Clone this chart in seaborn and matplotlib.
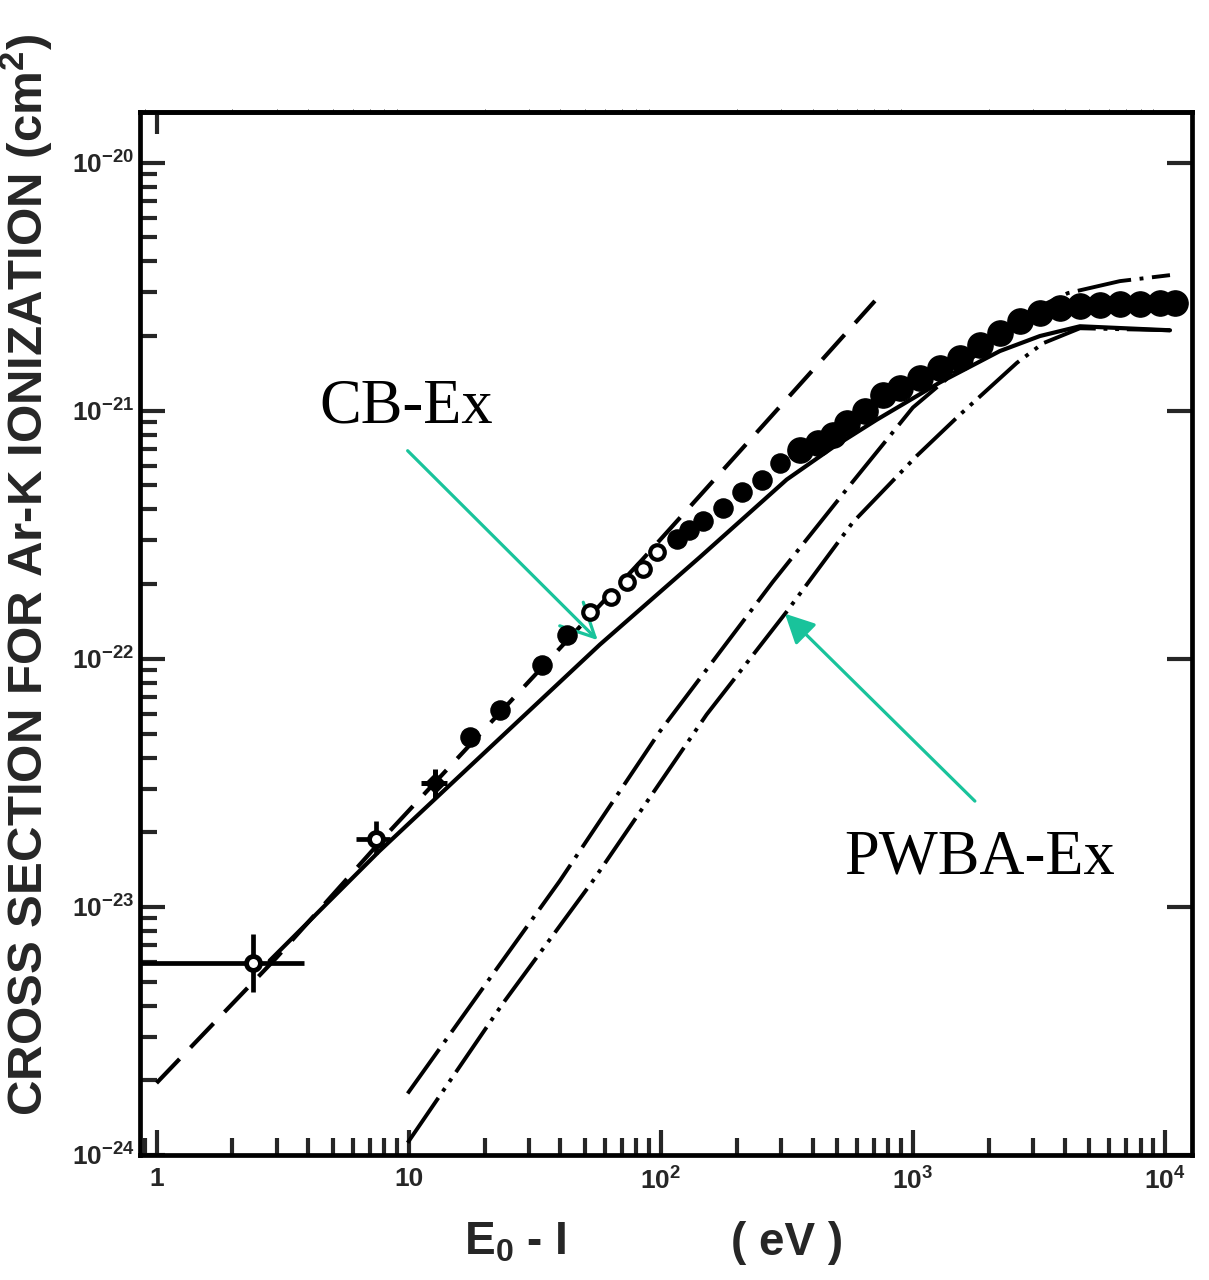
import matplotlib
matplotlib.use("Agg")
import matplotlib.pyplot as plt
import pandas as pd
import seaborn as sns

# ---------------- data ----------------
# straight long-dashed curve
dash_e = [1.0, 2.99, 8.41, 84.8, 325, 707]
dash_s = [1.95e-24, 6.24e-24, 2.02e-23, 2.52e-22, 1.15e-21, 2.77e-21]

# solid curve (CB-Ex)
cb_e = [2.81, 7.66, 57.3, 143, 316, 480, 719, 1279, 2214, 3190, 4600, 10470]
cb_s = [6.07e-24, 1.68e-23, 1.14e-22, 2.57e-22, 5.28e-22, 7.1e-22, 9.2e-22,
        1.30e-21, 1.74e-21, 2.0e-21, 2.19e-21, 2.11e-21]

# dash-dot curve
dd_e = [9.91, 20.96, 39.7, 99.1, 278, 562, 1000, 1537, 2214, 2912, 4121, 6627, 10470]
dd_s = [1.77e-24, 5.14e-24, 1.27e-23, 5.09e-23, 2.04e-22, 5.0e-22, 1.03e-21,
        1.49e-21, 2.0e-21, 2.52e-21, 2.98e-21, 3.33e-21, 3.52e-21]

# dash-dot-dot curve (PWBA-Ex)
pw_e = [9.91, 23.6, 53.7, 152, 316, 578, 1038, 1537, 2587, 3281, 4600, 10470]
pw_s = [1.12e-24, 4.07e-24, 1.27e-23, 5.96e-23, 1.55e-22, 3.55e-22, 6.59e-22,
        9.64e-22, 1.56e-21, 1.87e-21, 2.15e-21, 2.11e-21]

# measured points with error bars (open symbols)
eb_e = [2.41, 7.45]
eb_s = [5.94e-24, 1.87e-23]
eb_e_lo = [0.5, 6.2]
eb_e_hi = [3.83, 8.4]
eb_s_lo = [4.53e-24, 1.63e-23]
eb_s_hi = [7.8e-24, 2.21e-23]

# star point
st_e = [12.7]
st_s = [3.15e-23]
st_e_lo = [11.2]
st_e_hi = [14.2]
st_s_lo = [2.75e-23]
st_s_hi = [3.6e-23]

# filled points
fill_e = [17.5, 23.0, 33.7, 42.4, 116, 130, 147, 176, 210, 252, 297]
fill_s = [4.86e-23, 6.24e-23, 9.46e-23, 1.25e-22, 3.03e-22, 3.30e-22, 3.61e-22,
          4.07e-22, 4.69e-22, 5.28e-22, 6.18e-22]

# open points
open_e = [52.3, 63.4, 73.3, 84.8, 96.4]
open_s = [1.55e-22, 1.77e-22, 2.04e-22, 2.30e-22, 2.69e-22]

# dense data band at high energies
band_e = [356, 420, 482, 547, 645, 761, 888, 1066, 1279, 1537, 1845, 2214, 2660,
          3190, 3830, 4600, 5521, 6627, 7960, 9550, 10960]
band_s = [6.97e-22, 7.43e-22, 8.0e-22, 8.95e-22, 1.0e-21, 1.16e-21, 1.24e-21,
          1.36e-21, 1.49e-21, 1.63e-21, 1.84e-21, 2.06e-21, 2.30e-21, 2.48e-21,
          2.59e-21, 2.64e-21, 2.67e-21, 2.69e-21, 2.69e-21, 2.72e-21, 2.72e-21]

x_ticks = [1, 10, 100, 1000, 10000]
x_tick_labels = ["1", "10", r"$10^{2}$", r"$10^{3}$", r"$10^{4}$"]
y_ticks = [1e-24, 1e-23, 1e-22, 1e-21, 1e-20]
y_tick_labels = [r"$10^{-24}$", r"$10^{-23}$", r"$10^{-22}$", r"$10^{-21}$", r"$10^{-20}$"]

# ---------------- style ----------------
sns.set_style("white")
plt.rcParams["font.family"] = ["Liberation Sans", "DejaVu Sans"]
plt.rcParams["mathtext.fontset"] = "custom"
plt.rcParams["mathtext.rm"] = "Liberation Sans:bold"
plt.rcParams["mathtext.it"] = "Liberation Sans:bold"
plt.rcParams["mathtext.bf"] = "Liberation Sans:bold"

fig = plt.figure(figsize=(12.09, 12.80), dpi=100)
ax = fig.add_axes([140 / 1209, 1 - 1155 / 1280, (1192 - 140) / 1209, (1155 - 112) / 1280])
ax.set_xscale("log")
ax.set_yscale("log")

lw = 3.0
sns.lineplot(x=dash_e, y=dash_s, ax=ax, color="black", linewidth=lw,
             linestyle=(0, (8, 3.8)), sort=False, estimator=None)
sns.lineplot(x=cb_e, y=cb_s, ax=ax, color="black", linewidth=lw,
             sort=False, estimator=None)
sns.lineplot(x=dd_e, y=dd_s, ax=ax, color="black", linewidth=2.8,
             linestyle=(0, (14, 2.2, 1, 2.2)), sort=False, estimator=None)
sns.lineplot(x=pw_e, y=pw_s, ax=ax, color="black", linewidth=2.8,
             linestyle=(0, (14, 2, 1, 2, 1, 2)), sort=False, estimator=None)

# error-bar points
xerr = [[e - lo for e, lo in zip(eb_e, eb_e_lo)], [hi - e for e, hi in zip(eb_e, eb_e_hi)]]
yerr = [[s - lo for s, lo in zip(eb_s, eb_s_lo)], [hi - s for s, hi in zip(eb_s, eb_s_hi)]]
ax.errorbar(eb_e, eb_s, xerr=xerr, yerr=yerr, fmt="o", color="black", mfc="white",
            mec="black", mew=3.5, ms=10, elinewidth=3.4, capsize=0, zorder=5)
st_xerr = [[e - lo for e, lo in zip(st_e, st_e_lo)], [hi - e for e, hi in zip(st_e, st_e_hi)]]
st_yerr = [[s - lo for s, lo in zip(st_s, st_s_lo)], [hi - s for s, hi in zip(st_s, st_s_hi)]]
ax.errorbar(st_e, st_s, xerr=st_xerr, yerr=st_yerr, fmt="D", color="black", ms=10,
            elinewidth=3.6, capsize=0, zorder=5)

sns.scatterplot(x=fill_e, y=fill_s, ax=ax, color="black", s=190, edgecolor="black",
                linewidth=1, zorder=6)
sns.scatterplot(x=open_e, y=open_s, ax=ax, facecolor="white", edgecolor="black",
                s=110, linewidth=3, zorder=6)
sns.scatterplot(x=band_e, y=band_s, ax=ax, color="black", s=330, edgecolor="black",
                linewidth=1, zorder=6)

ax.set_xlim(0.86, 12800)
ax.set_ylim(1e-24, 1.6e-20)

ax.set_xticks(x_ticks, x_tick_labels)
ax.set_yticks(y_ticks, y_tick_labels)
ax.tick_params(axis="both", which="both", bottom=True, left=True)
ax.tick_params(axis="both", which="major", direction="in", length=18, width=3,
               labelsize=19, pad=9)
ax.tick_params(axis="both", which="minor", direction="in", length=12, width=3)
ax.tick_params(axis="y", which="major", right=True, pad=4)
ax.tick_params(axis="y", which="minor", right=False)
ax.tick_params(axis="x", which="both", top=False)
for lab in ax.get_xticklabels() + ax.get_yticklabels():
    lab.set_fontweight("bold")
for sp in ax.spines.values():
    sp.set_linewidth(3.4)
    sp.set_color("black")

sec = ax.secondary_xaxis("top")
sec.set_xticks([1], [""])
sec.tick_params(direction="in", length=16, width=3)
sec.spines["top"].set_linewidth(3.4)

# axis titles
fig.text(27 / 1209, 1 - 1116 / 1280, "CROSS SECTION FOR Ar-K IONIZATION (cm$^{2}$)",
         rotation=90, ha="center", va="bottom", fontsize=35.5, fontweight="bold")
fig.text(515 / 1209, 1 - 1243 / 1280, r"E$_{0}$ - I", ha="center", va="center",
         fontsize=33, fontweight="bold")
fig.text(787 / 1209, 1 - 1243 / 1280, "( eV )", ha="center", va="center",
         fontsize=33, fontweight="bold")

# annotations
teal = "#19C39B"
ax.text(9.8, 1.03e-21, "CB-Ex", ha="center", va="center", fontsize=45,
        family="Liberation Serif", color="black")
ax.annotate("", xy=(56.2, 1.19e-22), xytext=(9.91, 6.9e-22),
            arrowprops=dict(arrowstyle="->,head_length=0.8,head_width=0.4",
                            color=teal, lw=2.3, shrinkA=0, shrinkB=0,
                            mutation_scale=30))
ax.text(1845, 1.57e-23, "PWBA-Ex", ha="center", va="center", fontsize=45,
        family="Liberation Serif", color="black")
ax.annotate("", xy=(311, 1.52e-22), xytext=(1762, 2.67e-23),
            arrowprops=dict(arrowstyle="-|>,head_length=0.6,head_width=0.3",
                            color=teal, lw=2.3, shrinkA=0, shrinkB=0,
                            mutation_scale=30))

fig.savefig("out.png", dpi=100)
